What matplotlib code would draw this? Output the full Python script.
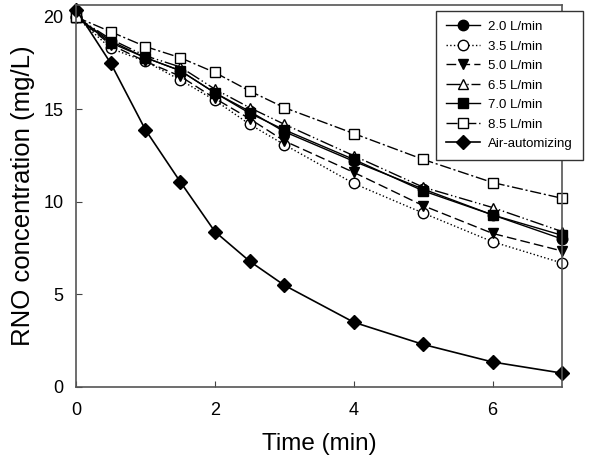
import numpy as np
import matplotlib.pyplot as plt

plt.rcParams['font.family'] = ['Liberation Sans', 'DejaVu Sans']

t = [0, 0.5, 1, 1.5, 2, 2.5, 3, 4, 5, 6, 7]

c_20 = [20.0, 18.7, 17.8, 17.1, 15.9, 14.9, 13.8, 12.2, 10.7, 9.3, 8.0]
c_35 = [20.0, 18.3, 17.6, 16.6, 15.5, 14.2, 13.1, 11.0, 9.4, 7.85, 6.7]
c_50 = [20.0, 18.5, 17.6, 16.8, 15.6, 14.5, 13.3, 11.6, 9.8, 8.3, 7.35]
c_65 = [20.0, 18.8, 17.9, 17.3, 16.1, 15.1, 14.2, 12.5, 10.8, 9.7, 8.4]
c_70 = [20.0, 18.6, 17.8, 17.1, 15.9, 14.8, 13.9, 12.3, 10.6, 9.3, 8.2]
c_85 = [20.0, 19.2, 18.4, 17.8, 17.0, 16.0, 15.1, 13.7, 12.3, 11.05, 10.2]
c_air = [20.4, 17.5, 13.9, 11.1, 8.4, 6.8, 5.5, 3.5, 2.3, 1.35, 0.75]

labels = ['2.0 L/min', '3.5 L/min', '5.0 L/min', '6.5 L/min',
          '7.0 L/min', '8.5 L/min', 'Air-automizing']

fig = plt.figure(figsize=(5.91, 4.57), dpi=100)
ax = fig.add_axes([0.1286, 0.1532, 0.8224, 0.836])

ax.plot(t, c_20, '-', color='black', lw=1, marker='o', ms=7.5, mfc='black', label=labels[0])
ax.plot(t, c_35, ':', color='black', lw=1, marker='o', ms=7.5, mfc='white', label=labels[1])
ax.plot(t, c_50, '--', color='black', lw=1, marker='v', ms=7.5, mfc='black',
        dashes=(7, 3), label=labels[2])
ax.plot(t, c_65, color='black', lw=1, marker='^', ms=7.5, mfc='white',
        dashes=(10, 2, 1, 2, 1, 2), label=labels[3])
ax.plot(t, c_70, '-', color='black', lw=1, marker='s', ms=7, mfc='black', label=labels[4])
ax.plot(t, c_85, '-.', color='black', lw=1, marker='s', ms=7.5, mfc='white',
        dashes=(8, 2, 1.5, 2), label=labels[5])
ax.plot(t, c_air, '-', color='black', lw=1.2, marker='D', ms=7.5, mfc='black', label=labels[6])

for l in ax.get_lines():
    l.set_clip_on(False)

ax.set_xlim(0, 7)
ax.set_ylim(0, 20.65)
ax.set_xticks([0, 2, 4, 6])
ax.set_yticks([0, 5, 10, 15, 20])
ax.tick_params(direction='in', length=4, labelsize=13, color='#444444')
ax.tick_params(axis='x', pad=11)
ax.tick_params(axis='y', pad=9)
for s in ax.spines.values():
    s.set_color('#555555')
    s.set_linewidth(1.2)

# the reference crops the bottom of this label; keep it just inside the canvas
ax.set_xlabel('Time (min)', fontsize=17.5, labelpad=10)
ax.set_ylabel('RNO concentration (mg/L)', fontsize=18.5, labelpad=6)

leg = fig.legend(loc='upper left', bbox_to_anchor=(0.738, 0.976), fontsize=9.5,
                 frameon=True, fancybox=False, framealpha=1, edgecolor='#333333',
                 handlelength=2.6, labelspacing=0.55, handletextpad=0.6,
                 borderpad=0.75, borderaxespad=0)
leg.get_frame().set_linewidth(1.0)

fig.savefig('out.png', dpi=100)
